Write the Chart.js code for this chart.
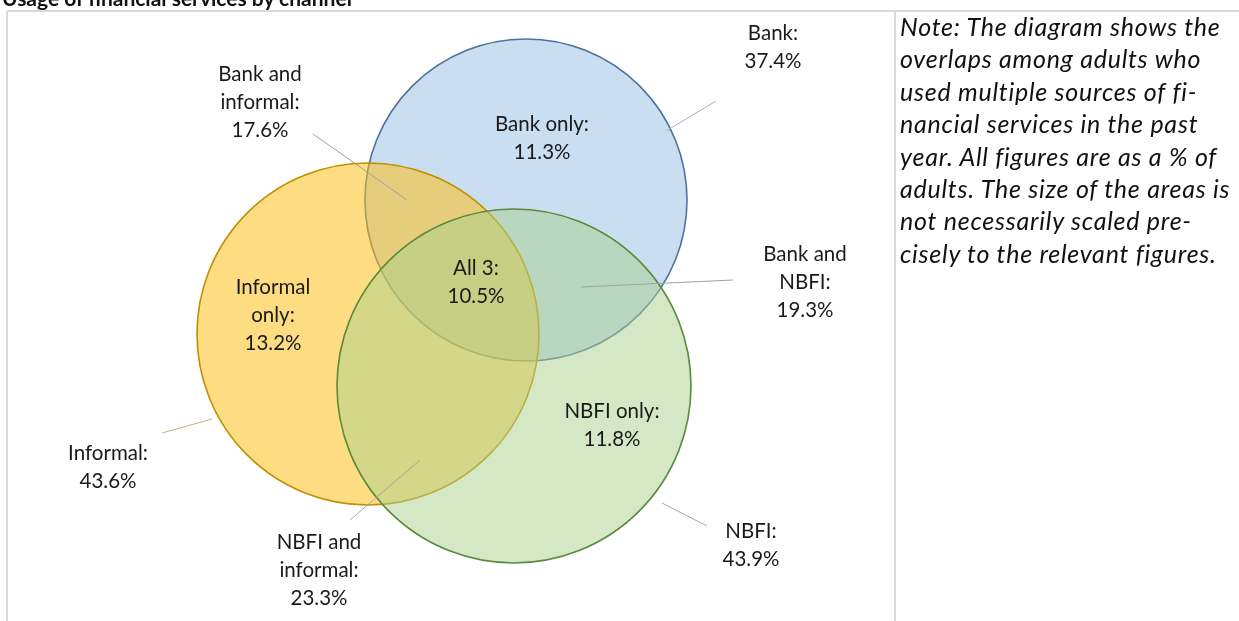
<!DOCTYPE html>
<html><head><meta charset="utf-8">
<script src="https://cdn.jsdelivr.net/npm/chart.js@4"></script>
<style>
html,body{margin:0;padding:0;background:#fff;overflow:hidden}
#wrap{position:relative;width:1239px;height:621px;overflow:hidden}
#c{position:absolute;left:0;top:0}
#title{position:absolute;left:2px;top:-15px;font:bold 21px Lato,sans-serif;color:#111;white-space:nowrap}
#note{position:absolute;left:900px;top:10px;font:italic 25px Lato,sans-serif;letter-spacing:0.75px;line-height:32.4px;color:#111;white-space:nowrap}
</style></head>
<body>
<div id="wrap">
<canvas id="c" width="1239" height="621"></canvas>
<div id="title">Usage of financial services by channel</div>
<div id="note">Note: The diagram shows the<br>overlaps among adults who<br>used multiple sources of fi-<br>nancial services in the past<br>year. All figures are as a % of<br>adults. The size of the areas is<br>not necessarily scaled pre-<br>cisely to the relevant figures.</div>
</div>
<script>
// ---- data ----
const categories = ["Bank", "Informal", "NBFI", "Bank only", "Informal only", "NBFI only",
  "Bank and informal", "Bank and NBFI", "NBFI and informal", "All 3"];
const values = [37.4, 43.6, 43.9, 11.3, 13.2, 11.8, 17.6, 19.3, 23.3, 10.5];
const labelLines = [["Bank:"], ["Informal:"], ["NBFI:"], ["Bank only:"], ["Informal", "only:"],
  ["NBFI only:"], ["Bank and", "informal:"], ["Bank and", "NBFI:"], ["NBFI and", "informal:"], ["All 3:"]];
const setNames = ["Bank", "Informal", "NBFI"];

// ---- layout (diagram units) ----
const circleLayout = [ {x: 526, y: 200, r: 161}, {x: 368, y: 334, r: 171}, {x: 514, y: 386, r: 177} ];
const labelLayout = [ [773, 33], [108, 453], [751, 531], [542, 124], [273, 287], [612, 411],
  [260, 74], [805, 254], [319, 542], [476, 268] ];
const leaderLayout = [
  [[666, 131], [716, 101]],
  [[162, 433], [212, 419]],
  [[662, 503], [707, 526]],
  null, null, null,
  [[313, 134], [407, 200]],
  [[581, 287], [733, 280]],
  [[350, 520], [420, 460]],
  null
];

// ---- styles ----
const fills = ["rgba(150,190,228,0.5)", "rgba(253,190,16,0.52)", "rgba(169,209,142,0.5)"];
const strokes = ["#4f71a0", "#bf9000", "#5a8a3a"];
const orders = [3, 2, 1];
const leaderColors = ["#9fb3cc", "#c2b07a", "#a8a8a8", null, null, null, "#a0a0a0", "#a0a0a0", "#a8a8a0", null];

const datasets = [];
setNames.forEach((name, i) => {
  datasets.push({
    label: name,
    data: [{x: circleLayout[i].x, y: circleLayout[i].y, rr: circleLayout[i].r}],
    order: orders[i],
    pointBackgroundColor: fills[i],
    pointBorderColor: strokes[i],
    pointBorderWidth: 1.6,
    pointHoverRadius: 0,
    pointRadius: (ctx) => {
      const s = ctx.chart.scales.x; const d = ctx.raw;
      if (!s || !d) return 0;
      return s.getPixelForValue(d.x + d.rr) - s.getPixelForValue(d.x);
    },
    showLine: false
  });
});
leaderLayout.forEach((seg, i) => {
  if (!seg) return;
  datasets.push({
    label: categories[i] + " leader",
    data: seg.map(p => ({x: p[0], y: p[1]})),
    order: 0,
    showLine: true,
    borderColor: leaderColors[i],
    borderWidth: 1,
    pointRadius: 0,
    pointHoverRadius: 0,
    fill: false
  });
});

const framePlugin = {
  id: 'frame',
  beforeDraw(chart) {
    const c = chart.ctx;
    c.save();
    c.strokeStyle = '#d9d9d9';
    c.lineWidth = 2;
    c.beginPath();
    c.moveTo(7, 11); c.lineTo(1239, 11);
    c.moveTo(7, 11); c.lineTo(7, 621);
    c.moveTo(895, 11); c.lineTo(895, 621);
    c.stroke();
    c.restore();
  }
};
const labelPlugin = {
  id: 'venLabels',
  afterDatasetsDraw(chart) {
    const c = chart.ctx, sx = chart.scales.x, sy = chart.scales.y;
    c.save();
    c.font = '20.5px Lato, sans-serif';
    c.fillStyle = '#1a1a1a';
    c.textAlign = 'center';
    c.textBaseline = 'middle';
    const lh = 28;
    categories.forEach((cat, i) => {
      const lines = labelLines[i].concat([values[i].toFixed(1) + '%']);
      const px = sx.getPixelForValue(labelLayout[i][0]);
      const py = sy.getPixelForValue(labelLayout[i][1]);
      lines.forEach((t, k) => c.fillText(t, px, py + k * lh));
    });
    c.restore();
  }
};

new Chart(document.getElementById('c'), {
  type: 'scatter',
  data: { datasets },
  options: {
    responsive: false,
    animation: false,
    events: [],
    layout: { padding: 0 },
    plugins: { legend: { display: false }, tooltip: { enabled: false }, title: { display: false } },
    scales: {
      x: { type: 'linear', min: 0, max: 1239, display: false },
      y: { type: 'linear', min: 0, max: 621, reverse: true, display: false }
    },
    elements: { point: { hitRadius: 0 } }
  },
  plugins: [framePlugin, labelPlugin]
});
</script>
</body></html>
